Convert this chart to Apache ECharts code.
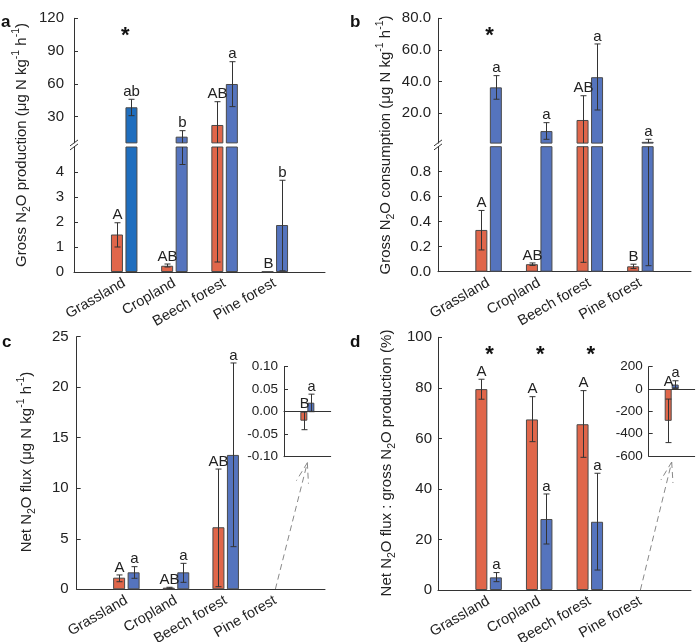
<!DOCTYPE html>
<html><head><meta charset="utf-8">
<script src="https://cdn.jsdelivr.net/npm/echarts@6/dist/echarts.min.js"></script>
<style>html,body{margin:0;padding:0;background:#fff}#c{width:697px;height:642px}</style>
</head><body><div id="c"></div>
<script>
// ---------------- data ----------------
const categories = ['Grassland', 'Cropland', 'Beech forest', 'Pine forest'];

// a: Gross N2O production (red, blue); broken axis
const aRed      = [1.5, 0.25, 22.4, 0.02];
const aRedLow   = [1.0, 0.2, 0.4, null];
const aRedHigh  = [1.97, 0.32, 43.7, null];
const aBlue     = [38.6, 11.7, 59.9, 1.88];
const aBlueLow  = [30.9, 4.3, 39.2, 0.05];
const aBlueHigh = [45.9, 17.2, 80.3, 3.67];
const aRedLetters  = ['A', 'AB', 'AB', 'B'];
const aBlueLetters = ['ab', 'b', 'a', 'b'];
const aStars = [true, false, false, false];
const aUpperTicks = [30, 60, 90, 120];
const aLowerTicks = [0, 1, 2, 3, 4];

// b: Gross N2O consumption; broken axis
const bRed      = [0.334, 0.06, 15.8, 0.043];
const bRedLow   = [0.174, 0.05, 0.075, 0.025];
const bRedHigh  = [0.49, 0.07, 31.1, 0.06];
const bBlue     = [36.4, 8.8, 42.8, 2.0];
const bBlueLow  = [28.9, 3.6, 22.1, 0.048];
const bBlueHigh = [43.8, 14.1, 63.8, 3.6];
const bRedLetters  = ['A', 'AB', 'AB', 'B'];
const bBlueLetters = ['a', 'a', 'a', 'a'];
const bStars = [true, false, false, false];
const bUpperTicks = [20, 40, 60, 80];
const bLowerTicks = [0, 0.2, 0.4, 0.6, 0.8];

// c: Net N2O flux (Pine forest shown in inset)
const cRed      = [1.15, 0.16, 6.14, -0.02];
const cRedLow   = [0.75, 0.1, 0.26, -0.04];
const cRedHigh  = [1.42, 0.2, 11.9, 0.0];
const cBlue     = [1.68, 1.68, 13.3, 0.02];
const cBlueLow  = [1.09, 0.69, 4.22, 0.0];
const cBlueHigh = [2.24, 2.57, 22.4, 0.039];
const cRedLetters  = ['A', 'AB', 'AB', 'B'];
const cBlueLetters = ['a', 'a', 'a', 'a'];
const cTicks = [0, 5, 10, 15, 20, 25];
const cInsetTicks = [-0.1, -0.05, 0, 0.05, 0.1];

// d: Net N2O flux : gross N2O production (%) (Pine forest shown in inset)
const dRed      = [79.5, 67.5, 65.6, -285];
const dRedLow   = [75.5, 58.7, 52.5, -480];
const dRedHigh  = [83.4, 76.5, 78.9, -90];
const dBlue     = [5.0, 28.1, 27.0, 40];
const dBlueLow  = [3.3, 18.2, 7.9, 10];
const dBlueHigh = [6.9, 38.0, 46.2, 74];
const dRedLetters  = ['A', 'A', 'A', 'A'];
const dBlueLetters = ['a', 'a', 'a', 'a'];
const dStars = [true, true, true, false];
const dTicks = [0, 20, 40, 60, 80, 100];
const dInsetTicks = [-600, -400, -200, 0, 200];

const insetIndex = 3; // Pine forest drawn in the insets of c and d

// ---------------- styles ----------------
const RED = '#E0664A', BLUE = '#5574BE', DARKBLUE = '#1F6EBE', EDGE = '#4a4a4a', INK = '#222', AX = '#333';
const FONT = '"Liberation Sans", Arial, sans-serif';

const grids = [], xAxes = [], yAxes = [], series = [];
const paddedCats = ['', ...categories, ''];

function addGrid(rect, showX, yCfg, insetCats) {
  const gi = grids.length;
  grids.push(Object.assign({ outerBoundsMode: 'none', containLabel: false }, rect));
  if (insetCats) {
    xAxes.push({ gridIndex: gi, type: 'category', data: insetCats, boundaryGap: true, position: 'top',
      axisLine: { show: true, onZero: true, lineStyle: { color: AX } }, axisTick: { show: false }, axisLabel: { show: false } });
  } else {
    xAxes.push({ gridIndex: gi, type: 'category', data: paddedCats, boundaryGap: false, show: showX,
      axisLine: { show: true, onZero: false, lineStyle: { color: AX } }, axisTick: { show: false },
      axisLabel: { interval: 0, rotate: 30, fontSize: 14.5, color: INK, fontFamily: FONT, margin: 10 },
      splitLine: { show: false } });
  }
  yAxes.push(Object.assign({ gridIndex: gi }, yCfg));
  return gi;
}
function yCfg(min, max, ticks, fmt, margin, fs) {
  return { type: 'value', min, max, scale: true,
    axisLine: { show: true, onZero: false, lineStyle: { color: AX } },
    axisTick: { show: true, inside: true, length: 4, customValues: ticks, lineStyle: { color: AX } },
    axisLabel: { customValues: ticks, formatter: fmt, fontSize: fs, color: INK, fontFamily: FONT, margin },
    splitLine: { show: false } };
}

function addBars(gi, vals, keep, color, bw, gap, padded, special) {
  const d = vals.map((v, i) => {
    if (!keep(i)) return '-';
    if (special && special[i]) return { value: v, itemStyle: { color: special[i] } };
    return v;
  });
  series.push({ type: 'bar', xAxisIndex: gi, yAxisIndex: gi, data: padded ? ['-', ...d, '-'] : d,
    barWidth: bw, barGap: (gap / bw * 100) + '%', clip: true, animation: false, silent: true,
    itemStyle: { color, borderColor: EDGE, borderWidth: 1 } });
}

function addErr(gi, idxs, xOf, vals, lows, highs, letters, offset, fs, withLetters) {
  const data = idxs.map(i => [xOf(i), vals[i], lows[i] == null ? vals[i] : lows[i], highs[i] == null ? vals[i] : highs[i], i]);
  series.push({ type: 'custom', xAxisIndex: gi, yAxisIndex: gi, data, z: 5, silent: true, animation: false,
    encode: { x: 0, y: 1 },
    renderItem(params, api) {
      const cs = params.coordSys, top = cs.y, bot = cs.y + cs.height;
      const xi = api.value(0), v = api.value(1), lo = api.value(2), hi = api.value(3), ci = api.value(4);
      const x = Math.round(api.coord([xi, 0])[0] + offset) + 0.5;
      const ch = [];
      const cl = y => Math.min(bot, Math.max(top, y));
      const yl = api.coord([xi, lo])[1], yh = api.coord([xi, hi])[1];
      const a = cl(yl), b = cl(yh);
      const st = { stroke: AX, lineWidth: 1 };
      if (Math.abs(a - b) > 0.5) {
        ch.push({ type: 'line', shape: { x1: x, y1: a, x2: x, y2: b }, style: st });
        if (yl >= top && yl <= bot) ch.push({ type: 'line', shape: { x1: x - 3, y1: yl, x2: x + 3, y2: yl }, style: st });
        if (yh >= top && yh <= bot) ch.push({ type: 'line', shape: { x1: x - 3, y1: yh, x2: x + 3, y2: yh }, style: st });
      }
      if (withLetters) {
        const t = Math.max(v, hi, 0);
        const yt = api.coord([xi, t])[1];
        if (yt >= top - 1 && yt <= bot + 1) {
          ch.push({ type: 'text', x: x, y: yt, style: { text: letters[ci], fill: INK, font: fs + 'px ' + FONT, align: 'center', verticalAlign: 'bottom' } });
        }
      }
      return { type: 'group', children: ch };
    } });
}

function addStars(gi, stars) {
  const data = stars.map((s, i) => s ? [i + 1, 0] : null).filter(Boolean);
  series.push({ type: 'custom', xAxisIndex: gi, yAxisIndex: gi, data, z: 5, silent: true, animation: false,
    renderItem(params, api) {
      const cs = params.coordSys;
      const x = api.coord([api.value(0), 0])[0] + 1;
      return { type: 'text', x: x, y: cs.y + 18, style: { text: '*', fill: '#111', font: 'bold 22px ' + FONT, align: 'center', verticalAlign: 'middle' } };
    } });
}

const all = i => true;
const notInset = i => i !== insetIndex;
const BW = 12, GAP = 2.5, OFF = (BW + GAP) / 2;
const IBW = 7, IOFF = 3.5;
const idx4 = [0, 1, 2, 3], idx3 = [0, 1, 2];
const px = i => i + 1;

// ---- panel a ----
const A_UP = { left: 74, top: 18.3, width: 251, height: 124.6 };
const A_LO = { left: 74, top: 147, width: 251, height: 125 };
const gAU = addGrid(A_UP, false, yCfg(6, 120, aUpperTicks, v => String(v), 10, 15));
const gAL = addGrid(A_LO, true, yCfg(0, 5, aLowerTicks, v => String(v), 10, 15));
[gAU, gAL].forEach(g => {
  addBars(g, aRed, all, RED, BW, GAP, true);
  addBars(g, aBlue, all, BLUE, BW, GAP, true, [DARKBLUE]);
  addErr(g, idx4, px, aRed, aRedLow, aRedHigh, aRedLetters, -OFF, 15, true);
  addErr(g, idx4, px, aBlue, aBlueLow, aBlueHigh, aBlueLetters, OFF, 15, true);
});
addStars(gAU, aStars);

// ---- panel b ----
const B_UP = { left: 438, top: 18.3, width: 253, height: 124.8 };
const B_LO = { left: 438, top: 146.7, width: 253, height: 125 };
const gBU = addGrid(B_UP, false, yCfg(1.2, 80, bUpperTicks, v => v.toFixed(1), 7, 15));
const gBL = addGrid(B_LO, true, yCfg(0, 1, bLowerTicks, v => v.toFixed(1), 7, 15));
[gBU, gBL].forEach(g => {
  addBars(g, bRed, all, RED, BW, GAP, true);
  addBars(g, bBlue, all, BLUE, BW, GAP, true);
  addErr(g, idx4, px, bRed, bRedLow, bRedHigh, bRedLetters, -OFF, 15, true);
  addErr(g, idx4, px, bBlue, bBlueLow, bBlueHigh, bBlueLetters, OFF, 15, true);
});
addStars(gBU, bStars);

// ---- panel c ----
const C_MAIN = { left: 76.7, top: 336.7, width: 248.3, height: 252.6 };
const C_INS = { left: 284, top: 366.7, width: 46.7, height: 90 };
const gC = addGrid(C_MAIN, true, yCfg(0, 25, cTicks, v => String(v), 8, 15));
addBars(gC, cRed, notInset, RED, BW, GAP, true);
addBars(gC, cBlue, notInset, BLUE, BW, GAP, true);
addErr(gC, idx3, px, cRed, cRedLow, cRedHigh, cRedLetters, -OFF, 15, true);
addErr(gC, idx3, px, cBlue, cBlueLow, cBlueHigh, cBlueLetters, OFF, 15, true);
const gCI = addGrid(C_INS, true, yCfg(-0.1, 0.1, cInsetTicks, v => v.toFixed(2), 6, 13.5), [categories[insetIndex]]);
addBars(gCI, [cRed[insetIndex]], all, RED, IBW, 0, false);
addBars(gCI, [cBlue[insetIndex]], all, BLUE, IBW, 0, false);
addErr(gCI, [insetIndex], () => 0, cRed, cRedLow, cRedHigh, cRedLetters, -IOFF, 14.5, true);
addErr(gCI, [insetIndex], () => 0, cBlue, cBlueLow, cBlueHigh, cBlueLetters, IOFF, 14.5, true);

// ---- panel d ----
const D_MAIN = { left: 438, top: 337.3, width: 253, height: 252.7 };
const D_INS = { left: 648.7, top: 366.7, width: 46, height: 89.3 };
const gD = addGrid(D_MAIN, true, yCfg(0, 100, dTicks, v => String(v), 6, 15));
addBars(gD, dRed, notInset, RED, BW, GAP, true);
addBars(gD, dBlue, notInset, BLUE, BW, GAP, true);
addErr(gD, idx3, px, dRed, dRedLow, dRedHigh, dRedLetters, -OFF, 15, true);
addErr(gD, idx3, px, dBlue, dBlueLow, dBlueHigh, dBlueLetters, OFF, 15, true);
addStars(gD, dStars);
const gDI = addGrid(D_INS, true, yCfg(-600, 200, dInsetTicks, v => String(v), 6, 13.5), [categories[insetIndex]]);
addBars(gDI, [dRed[insetIndex]], all, RED, IBW, 0, false);
addBars(gDI, [dBlue[insetIndex]], all, BLUE, IBW, 0, false);
addErr(gDI, [insetIndex], () => 0, dRed, dRedLow, dRedHigh, dRedLetters, -IOFF, 14.5, true);
addErr(gDI, [insetIndex], () => 0, dBlue, dBlueLow, dBlueHigh, dBlueLetters, IOFF, 14.5, true);

// bottom frame lines of insets (second x axis at the bottom)
[gCI, gDI].forEach(g => {
  xAxes.push({ gridIndex: g, type: 'category', data: [categories[insetIndex]], position: 'bottom',
    axisLine: { show: true, onZero: false, lineStyle: { color: AX } }, axisTick: { show: false }, axisLabel: { show: false } });
});

const chart = echarts.init(document.getElementById('c'), null, { renderer: 'canvas' });
chart.setOption({
  animation: false,
  textStyle: { fontFamily: FONT },
  grid: grids, xAxis: xAxes, yAxis: yAxes, series
});

// ---------------- decorations ----------------
const G = [];
const richT = { sub: { fontSize: 10.5, verticalAlign: 'bottom', lineHeight: 22 }, sup: { fontSize: 10.5, verticalAlign: 'top', lineHeight: 22 }, n: { fontSize: 15, lineHeight: 22 } };
function title(x, y, txt) {
  G.push({ type: 'text', x, y, rotation: Math.PI / 2, silent: true,
    style: { text: txt, fill: INK, fontFamily: FONT, fontSize: 15, align: 'center', verticalAlign: 'middle', rich: richT } });
}
title(22, 145, '{n|Gross N}{sub|2}{n|O production (μg N kg}{sup|-1}{n| h}{sup|-1}{n|)}');
title(386, 145, '{n|Gross N}{sub|2}{n|O consumption (μg N kg}{sup|-1}{n| h}{sup|-1}{n|)}');
title(27, 462, '{n|Net N}{sub|2}{n|O flux (μg N kg}{sup|-1}{n| h}{sup|-1}{n|)}');
title(387, 463, '{n|Net N}{sub|2}{n|O flux : gross N}{sub|2}{n|O production (%)}');

function letter(x, y, t) {
  G.push({ type: 'text', x, y, silent: true, style: { text: t, fill: '#111', font: 'bold 17px ' + FONT, align: 'left', verticalAlign: 'alphabetic' } });
}
letter(1, 14, 'a'); letter(350, 14, 'b'); letter(2, 334, 'c'); letter(350, 334, 'd');

// axis break marks
function brk(x, yTop, yBot) {
  const m = (yTop + yBot) / 2;
  [-2, 2].forEach(d => G.push({ type: 'line', silent: true, shape: { x1: x - 4, y1: m + d + 3, x2: x + 4, y2: m + d - 3 }, style: { stroke: AX, lineWidth: 1 } }));
}
brk(A_UP.left, A_UP.top + A_UP.height, A_LO.top);
brk(B_UP.left, B_UP.top + B_UP.height, B_LO.top);

// dashed arrows from Pine forest (main) to insets
function arrow(gMain, gIns, insRect) {
  const p0 = chart.convertToPixel({ xAxisIndex: gMain, yAxisIndex: gMain }, [insetIndex + 1, 0]);
  const pc = chart.convertToPixel({ xAxisIndex: gIns, yAxisIndex: gIns }, [0, 0]);
  const x0 = p0[0], y0 = p0[1];
  const x1 = pc[0], y1 = insRect.top + insRect.height + 6;
  const st = { stroke: '#888', lineWidth: 1, lineDash: [6, 4] };
  G.push({ type: 'line', silent: true, shape: { x1: x0, y1: y0, x2: x1, y2: y1 }, style: st });
  const ang = Math.atan2(y0 - y1, x0 - x1), L = 21, s = 0.3;
  [ang - s, ang + s].forEach(a => G.push({ type: 'line', silent: true,
    shape: { x1: x1, y1: y1, x2: x1 + L * Math.cos(a), y2: y1 + L * Math.sin(a) }, style: st }));
}
arrow(gC, gCI, C_INS);
arrow(gD, gDI, D_INS);

chart.setOption({ graphic: G });
</script>
</body></html>
